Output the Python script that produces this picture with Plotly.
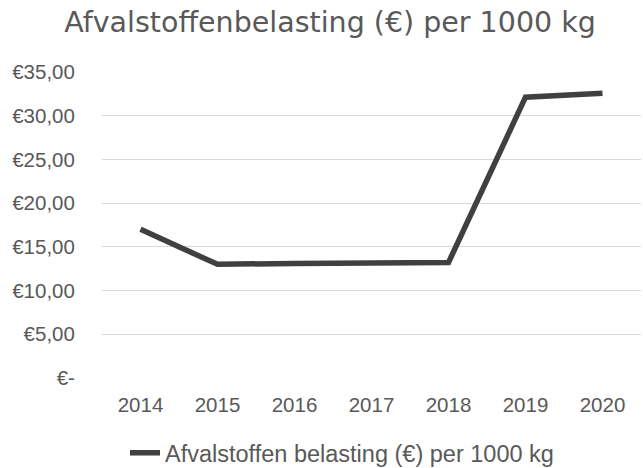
import plotly.graph_objects as go

years = ["2014", "2015", "2016", "2017", "2018", "2019", "2020"]
tarief = [17.00, 13.00, 13.11, 13.11, 13.21, 32.12, 32.57]
y_tickvals = [0, 5, 10, 15, 20, 25, 30, 35]
y_ticktext = ["€-", "€5,00", "€10,00", "€15,00", "€20,00", "€25,00", "€30,00", "€35,00"]
series_name = "Afvalstoffen belasting (€) per 1000 kg"
title_text = "Afvalstoffenbelasting (€) per 1000 kg"

W, H = 643, 468
L, R, T, B = 102, 2, 72, 90
PW, PH = W - L - R, H - T - B

fig = go.Figure()
fig.add_trace(go.Scatter(
    x=years, y=tarief, mode="lines", name=series_name,
    line=dict(color="#404040", width=5.5, shape="linear"),
))

tick_font = dict(family="Liberation Sans, Arial, sans-serif", size=20.5, color="#595959")
fig.update_layout(
    width=W, height=H,
    margin=dict(l=L, r=R, t=T, b=B, autoexpand=False),
    paper_bgcolor="white", plot_bgcolor="white",
    title=dict(text=title_text, x=330 / W, xanchor="center", y=1 - 22 / H, yanchor="middle",
               font=dict(family="DejaVu Sans, Verdana, sans-serif", size=28.5, color="#595959")),
    showlegend=True,
    legend=dict(orientation="h", x=(125 - L) / PW, xanchor="left",
                y=-(453 - (T + PH)) / PH, yanchor="middle",
                font=dict(family="Liberation Sans, Arial, sans-serif", size=23.5, color="#595959"),
                itemwidth=30),
    xaxis=dict(type="category", range=[-0.5, 6.5], showgrid=False, zeroline=False, showline=False,
               automargin=False,
               ticks="outside", ticklen=8, tickcolor="rgba(0,0,0,0)", tickfont=tick_font),
    yaxis=dict(range=[0, 35], tickvals=y_tickvals, ticktext=y_ticktext, showgrid=True,
               automargin=False,
               gridcolor="#d9d9d9", gridwidth=1.3, zeroline=False, showline=False,
               ticks="outside", ticklen=22, tickcolor="rgba(0,0,0,0)", tickfont=tick_font),
)
fig.write_html("out.html", config={"displayModeBar": False},
               post_script="document.body.style.margin='0px';document.body.style.overflow='hidden';")
